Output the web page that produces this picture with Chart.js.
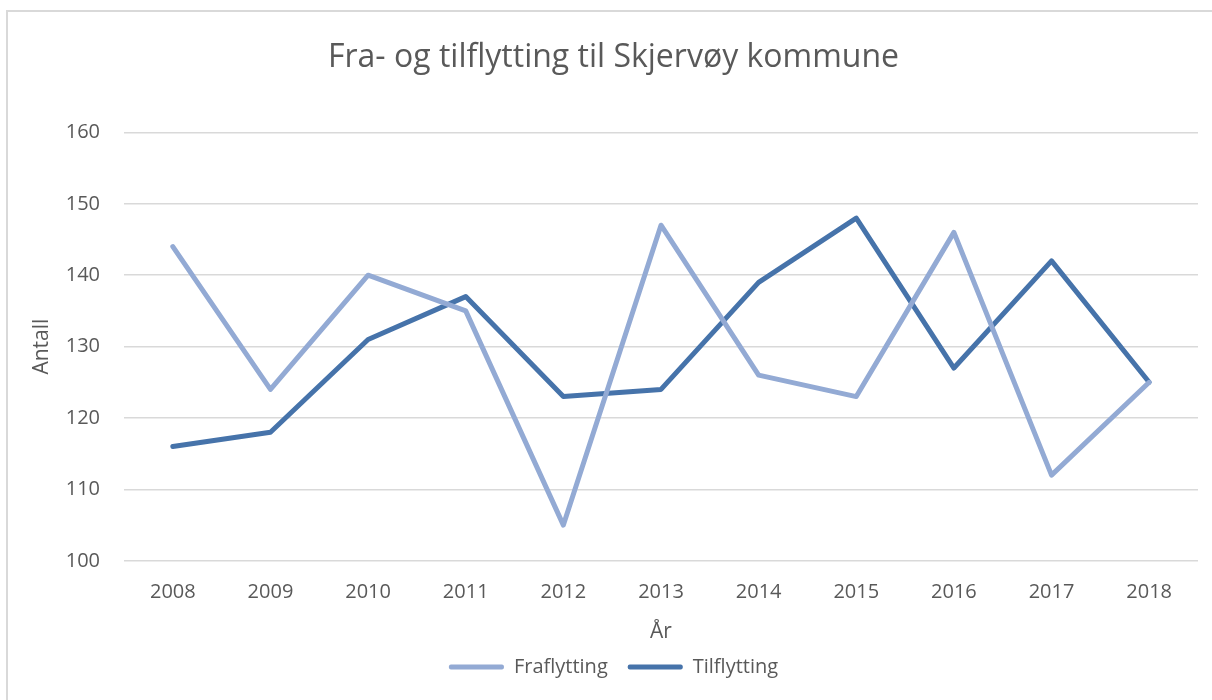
<!DOCTYPE html>
<html>
<head>
<meta charset="utf-8">
<script src="https://cdn.jsdelivr.net/npm/chart.js@4/dist/chart.umd.min.js"></script>
<style>
  html, body { margin: 0; padding: 0; background: #fff; }
  #wrap { width: 1212px; height: 700px; }
</style>
</head>
<body>
<div id="wrap"><canvas id="chart" width="1212" height="700"></canvas></div>
<script>
// data
const years = ["2008", "2009", "2010", "2011", "2012", "2013", "2014", "2015", "2016", "2017", "2018"];
const fraflytting = [144, 124, 140, 135, 105, 147, 126, 123, 146, 112, 125];
const tilflytting = [116, 118, 131, 137, 123, 124, 139, 148, 127, 142, 125];

const textColor = "#595959";
const fontFamily = "'Open Sans', 'Noto Sans', sans-serif";

// frame round the chart (only left and top show in the picture)
const framePlugin = {
    id: "frame",
    beforeDraw(chart) {
        const ctx = chart.ctx;
        ctx.save();
        ctx.fillStyle = "#fff";
        ctx.fillRect(0, 0, chart.width, chart.height);
        ctx.strokeStyle = "#d9d9d9";
        ctx.lineWidth = 2;
        ctx.beginPath();
        ctx.moveTo(7, chart.height);
        ctx.lineTo(7, 11);
        ctx.lineTo(chart.width, 11);
        ctx.stroke();
        ctx.restore();
    }
};

new Chart(document.getElementById("chart"), {
    type: "line",
    data: {
        labels: years,
        datasets: [
            {
                label: "Fraflytting",
                data: fraflytting,
                borderColor: "#93aad4",
                backgroundColor: "#93aad4",
                borderWidth: 5,
                pointRadius: 0,
                tension: 0,
                borderCapStyle: "round",
                borderJoinStyle: "round"
            },
            {
                label: "Tilflytting",
                data: tilflytting,
                borderColor: "#4673aa",
                backgroundColor: "#4673aa",
                borderWidth: 5,
                pointRadius: 0,
                tension: 0,
                borderCapStyle: "round",
                borderJoinStyle: "round"
            }
        ]
    },
    options: {
        responsive: false,
        animation: false,
        layout: { padding: { left: 29, right: 14, top: 22, bottom: 13 } },
        plugins: {
            title: {
                display: true,
                text: "Fra- og tilflytting til Skjervøy kommune",
                color: textColor,
                font: { family: fontFamily, size: 32, weight: "normal" },
                padding: { top: 17, bottom: 55 }
            },
            legend: {
                position: "bottom",
                labels: {
                    color: textColor,
                    font: { family: fontFamily, size: 20 },
                    boxWidth: 55,
                    boxHeight: 5,
                    padding: 20,
                    generateLabels(chart) {
                        return chart.data.datasets.map((ds, i) => ({
                            text: ds.label,
                            fillStyle: ds.borderColor,
                            strokeStyle: ds.borderColor,
                            lineWidth: 0,
                            borderRadius: 2,
                            fontColor: textColor,
                            datasetIndex: i
                        }));
                    }
                }
            },
            tooltip: { enabled: false }
        },
        scales: {
            x: {
                offset: true,
                grid: { display: false },
                border: { display: false },
                ticks: {
                    color: textColor,
                    font: { family: fontFamily, size: 20 },
                    padding: 11
                },
                title: {
                    display: true,
                    text: "År",
                    color: textColor,
                    font: { family: fontFamily, size: 21 },
                    padding: { top: 5, bottom: -8 }
                }
            },
            y: {
                min: 100,
                max: 160,
                afterFit(scale) { scale.width = 95; },
                grid: { color: "#d9d9d9", lineWidth: 1.5, drawTicks: false },
                border: { display: false },
                ticks: {
                    stepSize: 10,
                    color: textColor,
                    font: { family: fontFamily, size: 20 },
                    padding: 24
                },
                title: {
                    display: true,
                    text: "Antall",
                    color: textColor,
                    font: { family: fontFamily, size: 21 },
                    padding: { top: 0, bottom: 0 }
                }
            }
        }
    },
    plugins: [framePlugin]
});
</script>
</body>
</html>
